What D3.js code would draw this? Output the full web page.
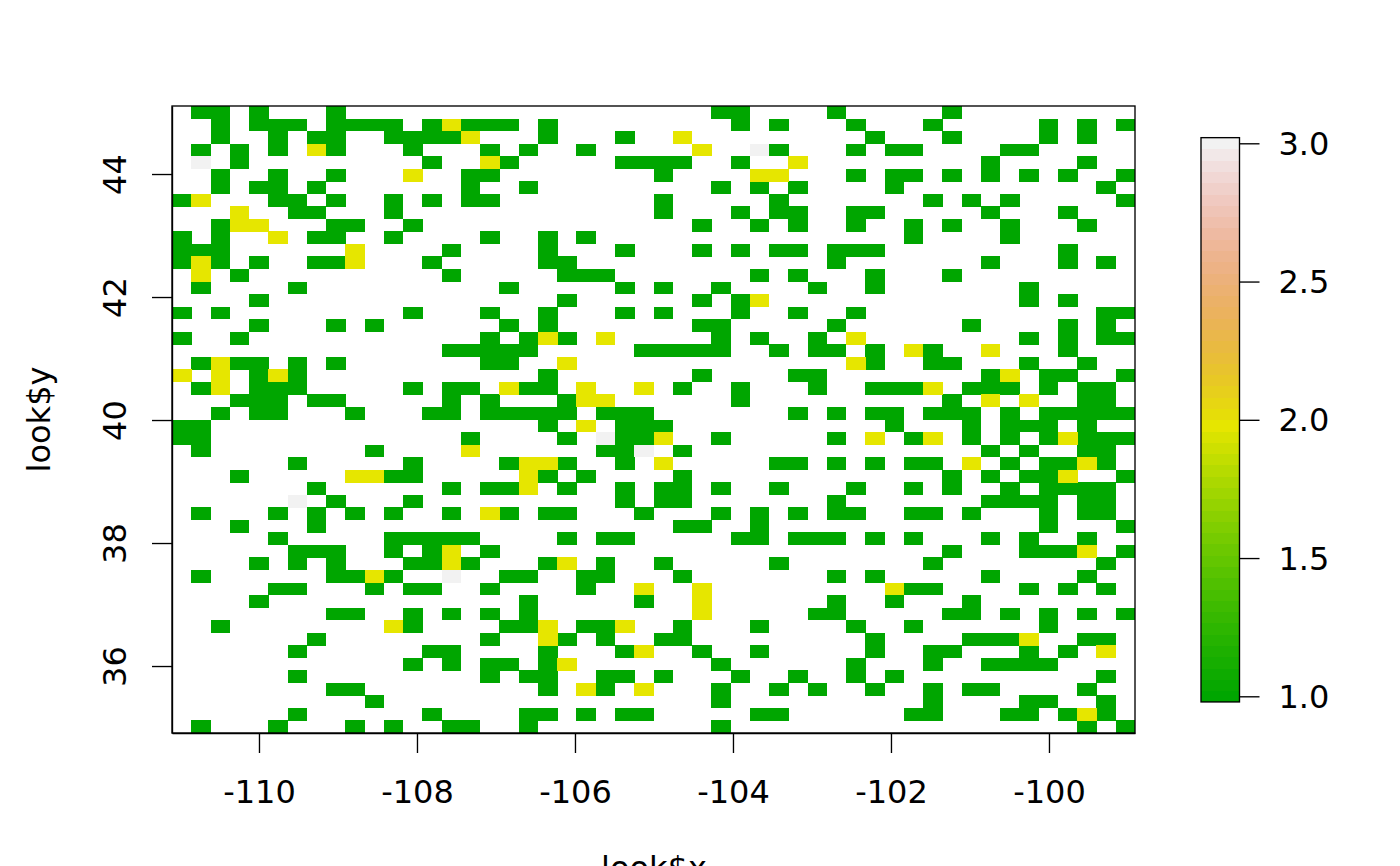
<!DOCTYPE html>
<html>
<head>
<meta charset="utf-8">
<script src="https://cdn.jsdelivr.net/npm/d3@7"></script>
<style>
html,body{margin:0;padding:0;background:#fff;overflow:hidden}
text{font-family:"DejaVu Sans",sans-serif;fill:#000}
</style>
</head>
<body>
<script>
// Cells with value 1: one list of column indices per grid row (top to bottom)
const valueOneByRow = [
[1,2,4,8,28,29,34,40],
[2,4,5,6,8,9,10,11,13,15,16,17,19,29,31,35,39,45,47,49],
[2,5,7,8,11,12,13,14,19,23,36,40,45,47],
[1,3,5,8,12,16,18,21,31,35,37,38,43,44],
[3,13,17,23,24,25,26,29,42,47],
[2,5,8,15,16,25,35,37,38,40,42,44,46,49],
[2,4,5,7,15,18,28,30,32,37,48],
[0,5,6,8,11,13,15,16,25,31,39,41,43,49],
[6,7,11,25,29,31,32,35,36,42,46],
[2,8,9,12,27,30,32,35,38,40,43,47],
[0,2,7,8,11,16,19,21,38,43],
[0,1,2,14,19,23,27,29,31,32,34,35,36,46],
[0,2,4,7,8,13,19,20,34,42,46,48],
[3,14,20,21,22,30,32,36,40],
[1,6,17,23,25,28,33,36,44],
[4,20,27,29,44,46],
[0,2,12,16,19,23,25,29,32,35,48,49],
[4,8,10,17,19,27,28,34,41,46,48],
[0,3,16,18,20,28,30,33,44,46,48,49],
[14,15,16,17,18,24,25,26,27,28,31,33,34,36,39,46],
[1,3,4,6,8,16,17,36,39,40,44,47],
[4,6,19,27,32,33,42,45,46,49],
[1,4,5,6,12,14,15,18,19,26,29,33,36,37,38,41,42,43,45,47,48],
[3,4,5,7,8,14,16,20,29,40,47,48],
[2,4,5,9,13,14,16,17,18,19,20,22,23,24,32,34,36,37,39,40,41,43,45,46,47,48,49],
[0,1,19,23,24,25,37,41,43,44,45,47],
[0,1,15,20,23,24,28,34,38,41,43,45,47,48,49],
[1,10,22,23,26,42,44,47,48],
[6,12,17,20,23,31,32,34,36,38,39,43,45,46,48],
[3,11,12,19,21,26,40,42,44,45,49],
[7,14,16,17,20,23,25,26,28,31,35,38,40,43,45,46,47,48],
[8,12,23,25,26,34,42,43,44,45,47,48],
[1,5,7,9,11,14,17,19,20,24,28,30,32,34,35,38,39,41,45,47,48],
[3,7,26,27,30,45,49],
[5,11,12,13,14,15,20,22,23,29,30,32,33,34,36,38,42,44,47],
[6,7,8,11,13,16,40,44,45,46,49],
[4,6,8,12,13,15,19,22,25,31,39,48],
[1,8,9,11,17,18,21,22,26,34,36,42,47],
[5,6,10,12,13,16,21,38,39,44,46,48],
[4,18,24,34,37,41],
[8,9,12,14,16,18,33,34,40,41,43,45,47,49],
[2,12,17,18,21,22,26,30,35,38,45],
[7,16,20,22,25,26,36,41,42,43,47,48],
[6,13,14,19,23,27,30,36,39,40,44,46],
[12,14,16,17,19,28,35,39,42,43,44,45],
[6,16,18,19,22,23,25,29,32,35,37,48],
[8,9,19,22,28,31,33,36,39,41,42,47],
[10,28,39,44,45,48],
[6,13,18,19,21,23,24,30,31,38,39,43,44,46,48],
[1,5,9,11,14,15,18,28,47,49]
];
// Cells with value 2 and value 3: [row, column]
const valueTwoCells = [
[1,14],[2,15],[2,26],[3,7],[3,27],[4,16],[4,32],[5,12],[5,30],[5,31],[7,1],[8,3],[9,3],[9,4],[10,5],
[11,9],[12,1],[12,9],[13,1],[15,30],[18,19],[18,22],[18,35],[19,38],[19,42],[20,2],[20,20],[20,35],
[21,0],[21,2],[21,5],[21,43],[22,2],[22,17],[22,21],[22,24],[22,39],[23,21],[23,22],[23,42],[23,44],
[25,21],[26,25],[26,36],[26,39],[26,46],[27,15],[28,18],[28,19],[28,25],[28,41],[28,47],[29,9],[29,10],
[29,18],[29,46],[30,18],[32,16],[35,14],[35,47],[36,14],[36,20],[37,10],[38,24],[38,27],[38,37],[39,27],
[40,27],[41,11],[41,19],[41,23],[42,19],[42,44],[43,24],[43,48],[44,20],[46,21],[46,24],[48,47]
];
const valueThreeCells = [[3,30],[4,1],[26,22],[27,24],[31,6],[37,14]];

const xTicks = [-110,-108,-106,-104,-102,-100];
const yTicks = [36,38,40,42,44];
const legendTicks = [1.0,1.5,2.0,2.5,3.0];
const xLabel = "look$x", yLabel = "look$y";
const gridSize = 50, paletteSize = 50;

// R terrain.colors(n)
function hsv(h,s,v){
  const i=Math.floor(h*6),f=h*6-i,p=v*(1-s),q=v*(1-f*s),t=v*(1-(1-f)*s);
  const m=[[v,t,p],[q,v,p],[p,v,t],[p,q,v],[t,p,v],[v,p,q]][i%6];
  return d3.rgb(Math.round(m[0]*255),Math.round(m[1]*255),Math.round(m[2]*255)).formatHex();
}
function terrain(n){
  const k=Math.floor(n/2), out=[];
  for(let i=0;i<k;i++){const t=i/(k-1);out.push(hsv((4-2*t)/12,1,.65+.25*t));}
  const m=n-k;
  for(let i=1;i<=m;i++){const t=i/m;out.push(hsv((2-2*t)/12,1-t,.9+.05*t));}
  return out;
}
const palette = terrain(paletteSize);
const cellColour = {1:palette[0],2:palette[paletteSize/2-1],3:palette[paletteSize-1]};

const W=1400,H=866;
const plot={l:172,r:1135,t:106,b:733};
const svg=d3.select("body").append("svg").attr("width",W).attr("height",H).style("display","block");

const x=d3.scaleLinear().domain([-111.101,-98.911]).range([plot.l,plot.r]);
const y=d3.scaleLinear().domain([34.911,45.106]).range([plot.b,plot.t]);
const col=d3.scaleBand().domain(d3.range(gridSize)).range([plot.l,plot.r]);
const row=d3.scaleBand().domain(d3.range(gridSize)).range([plot.t,plot.b]);

const cells=[];
valueOneByRow.forEach((cols,r)=>cols.forEach(c=>cells.push({r,c,v:1})));
valueTwoCells.forEach(([r,c])=>cells.push({r,c,v:2}));
valueThreeCells.forEach(([r,c])=>cells.push({r,c,v:3}));

svg.append("g").attr("shape-rendering","crispEdges").selectAll("rect").data(cells).join("rect")
  .attr("x",d=>col(d.c)).attr("y",d=>row(d.r))
  .attr("width",col.bandwidth()+.3).attr("height",row.bandwidth()+.3)
  .attr("fill",d=>cellColour[d.v]);

const lw=1.35, fs=32, tickLen=20;
svg.append("rect").attr("x",plot.l).attr("y",plot.t).attr("width",plot.r-plot.l).attr("height",plot.b-plot.t)
  .attr("fill","none").attr("stroke","#000").attr("stroke-width",lw);

function styleAxis(g){
  g.selectAll("path.domain").attr("stroke","#000").attr("stroke-width",lw);
  g.selectAll(".tick line").attr("stroke","#000").attr("stroke-width",lw);
  g.selectAll("text").attr("font-size",fs).attr("font-family",'"DejaVu Sans"').attr("fill","#000");
}
const gx=svg.append("g").attr("transform",`translate(0,${plot.b})`)
  .call(d3.axisBottom(x).tickValues(xTicks).tickSize(tickLen).tickSizeOuter(0).tickFormat(d=>String(d)));
styleAxis(gx);
gx.selectAll(".tick text").attr("dy",null).attr("y",70);

const gy=svg.append("g").attr("transform",`translate(${plot.l},0)`)
  .call(d3.axisLeft(y).tickValues(yTicks).tickSize(tickLen).tickSizeOuter(0).tickFormat(d=>String(d)));
styleAxis(gy);
gy.selectAll(".tick text").attr("x",null).attr("dy",null).attr("text-anchor","middle")
  .attr("transform",`translate(-46,0) rotate(-90)`);

svg.append("text").attr("x",654).attr("y",879).attr("text-anchor","middle").attr("font-size",fs).text(xLabel);
svg.append("text").attr("transform","translate(50,419.5) rotate(-90)").attr("text-anchor","middle").attr("font-size",fs).text(yLabel);

// colour legend
const legend={l:1201,r:1239.5};
const ly=d3.scaleLinear().domain([1,3]).range([696.3,143.3]);
const step=2/(paletteSize-1);
svg.append("g").attr("shape-rendering","crispEdges").selectAll("rect").data(palette).join("rect")
  .attr("x",legend.l).attr("width",legend.r-legend.l)
  .attr("y",(d,i)=>ly(1+i*step+step/2))
  .attr("height",(d,i)=>ly(1+i*step-step/2)-ly(1+i*step+step/2)+.5)
  .attr("fill",d=>d);
svg.append("rect").attr("x",legend.l).attr("width",legend.r-legend.l)
  .attr("y",ly(3+step/2)).attr("height",ly(1-step/2)-ly(3+step/2))
  .attr("fill","none").attr("stroke","#000").attr("stroke-width",lw);
const gl=svg.append("g").attr("transform",`translate(${legend.r},0)`)
  .call(d3.axisRight(ly).tickValues(legendTicks).tickSize(tickLen).tickPadding(19).tickSizeOuter(0).tickFormat(d3.format(".1f")));
gl.select("path.domain").remove();
styleAxis(gl);
gl.selectAll(".tick text").attr("dy",null).attr("y",11);
</script>
</body>
</html>
